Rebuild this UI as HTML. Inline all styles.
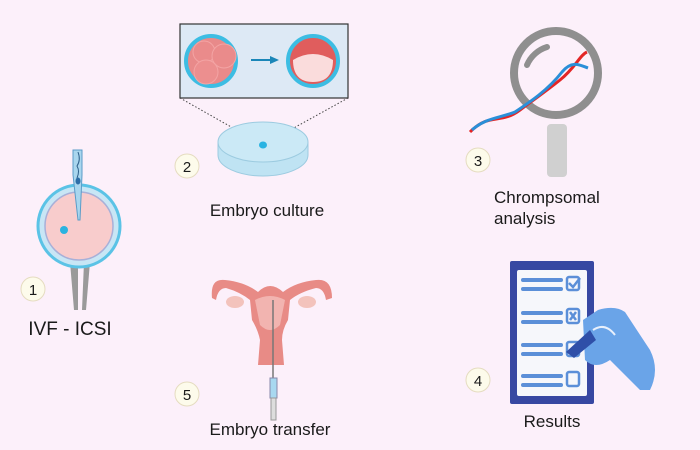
<!DOCTYPE html>
<html><head><style>
html,body{margin:0;padding:0;background:#fcf0fa;}
svg{display:block}
text{font-family:"Liberation Sans","DejaVu Sans",sans-serif;fill:#1a1a1a}
</style></head><body>
<svg width="700" height="450" viewBox="0 0 700 450" xmlns="http://www.w3.org/2000/svg">
<rect width="700" height="450" fill="#fcf0fa"/>
<!-- ICSI -->
<path d="M70 262 L74 310 L78 310 L78 262 Z M84 262 L82 310 L86 310 L90 262 Z" fill="#9a9a9a"/>
<circle cx="79" cy="226" r="41" fill="#c8e6f5" stroke="#5bc3e6" stroke-width="3"/>
<circle cx="79" cy="226" r="34" fill="#f8cccc" stroke="#a8b0d8" stroke-width="1.5"/>
<circle cx="64" cy="230" r="4" fill="#2bb3e0"/>
<path d="M73 150 L82 150 L82 175 L80 220 L78 220 L73 175 Z" fill="#a9d6ee" stroke="#5a9cc8" stroke-width="1"/>
<path d="M78 152 q3 8 -1 14 q3 5 0 12" stroke="#2d5f8a" fill="none" stroke-width="1"/>
<ellipse cx="78" cy="181" rx="2.5" ry="3.5" fill="#2d6ea8"/>
<circle cx="33" cy="289" r="12" fill="#fdfbeb" stroke="#e5dcc0"/>
<text x="33" y="295" font-size="15" text-anchor="middle">1</text>
<text x="70" y="335" font-size="19" text-anchor="middle">IVF - ICSI</text>
<!-- Embryo culture -->
<rect x="180" y="24" width="168" height="74" fill="#dde9f5" stroke="#333" stroke-width="1.2"/>
<circle cx="211" cy="61" r="25" fill="#e88a8a" stroke="#3cbde3" stroke-width="4"/>
<circle cx="204" cy="52" r="11" fill="#ea8b8b" stroke="#f3a4a4"/>
<circle cx="224" cy="56" r="12" fill="#ea8b8b" stroke="#f3a4a4"/>
<circle cx="206" cy="72" r="12" fill="#ec8f8f" stroke="#f3a4a4"/>
<line x1="251" y1="60" x2="272" y2="60" stroke="#1a86b8" stroke-width="2"/>
<path d="M270 56 L279 60 L270 64 Z" fill="#1a86b8"/>
<circle cx="313" cy="61" r="25" fill="#e05d5d" stroke="#3cbde3" stroke-width="4"/>
<path d="M293 60 Q313 48 333 60 Q333 82 313 82 Q293 82 293 60 Z" fill="#fadcdc"/>
<line x1="180" y1="98" x2="263" y2="145" stroke="#444" stroke-dasharray="1.5 2"/>
<line x1="348" y1="98" x2="263" y2="145" stroke="#444" stroke-dasharray="1.5 2"/>
<path d="M218 142 L218 155 A45 21 0 0 0 308 155 L308 142" fill="#bfe3f3" stroke="#9ccbe0"/>
<ellipse cx="263" cy="142" rx="45" ry="20" fill="#cbe9f6" stroke="#9ccbe0"/>
<ellipse cx="263" cy="145" rx="4" ry="3.5" fill="#29b3e2"/>
<circle cx="187" cy="166" r="12" fill="#fdfbeb" stroke="#e5dcc0"/>
<text x="187" y="172" font-size="15" text-anchor="middle">2</text>
<text x="267" y="216" font-size="17" text-anchor="middle">Embryo culture</text>
<!-- Chromosomal -->
<rect x="547" y="124" width="20" height="53" rx="4" fill="#d0d0d0"/>
<circle cx="556" cy="73" r="42" fill="none" stroke="#8f8f8f" stroke-width="8"/>
<path d="M527 65 A32 32 0 0 1 547 47" stroke="#8f8f8f" stroke-width="6" fill="none" stroke-linecap="round"/>
<path d="M470 132 C490 112 500 125 520 110 C540 95 545 92 560 80 C575 68 580 55 587 52" stroke="#e32626" stroke-width="3" fill="none"/>
<path d="M472 130 C485 118 500 118 515 112 C530 102 548 90 562 72 C572 60 580 65 588 68" stroke="#2a8fd8" stroke-width="3" fill="none"/>
<circle cx="478" cy="160" r="12" fill="#fdfbeb" stroke="#e5dcc0"/>
<text x="478" y="166" font-size="15" text-anchor="middle">3</text>
<text x="494" y="203" font-size="17">Chrompsomal</text>
<text x="494" y="224" font-size="17">analysis</text>
<!-- Results -->
<rect x="510" y="261" width="84" height="143" rx="2" fill="#3748a2"/>
<rect x="517" y="270" width="70" height="126" rx="2" fill="#f6f7fb"/>
<g stroke="#5b8fd8" stroke-width="4" stroke-linecap="round">
<line x1="523" y1="280" x2="561" y2="280"/><line x1="523" y1="289" x2="561" y2="289"/>
<line x1="523" y1="313" x2="561" y2="313"/><line x1="523" y1="322" x2="561" y2="322"/>
<line x1="523" y1="345" x2="561" y2="345"/><line x1="523" y1="354" x2="561" y2="354"/>
<line x1="523" y1="376" x2="561" y2="376"/><line x1="523" y1="385" x2="561" y2="385"/>
</g>
<g fill="none" stroke="#5b8fd8" stroke-width="2.5">
<rect x="567" y="277" width="12" height="13" rx="2"/><rect x="567" y="309" width="12" height="14" rx="2"/>
<rect x="567" y="342" width="12" height="14" rx="2"/><rect x="567" y="372" width="12" height="14" rx="2"/>
<path d="M569 283 l4 4 l7 -9"/><path d="M570 312 l6 8 M576 312 l-6 8"/>
</g>
<path d="M583 320 L598 310 Q615 305 625 312 L650 350 Q660 370 650 390 L640 390 Q620 370 610 360 Q595 370 585 360 Z" fill="#6aa4e8"/>
<path d="M566 352 L590 330 L596 340 L574 358 Z" fill="#2f4fa8"/>
<path d="M593 330 Q605 322 615 335" stroke="#e8f0fc" stroke-width="2" fill="none"/>
<circle cx="478" cy="380" r="12" fill="#fdfbeb" stroke="#e5dcc0"/>
<text x="478" y="386" font-size="15" text-anchor="middle">4</text>
<text x="552" y="427" font-size="17" text-anchor="middle">Results</text>
<!-- Uterus -->
<path d="M212 298 Q210 278 225 280 Q245 282 258 292 Q270 280 283 292 Q296 282 316 280 Q332 278 332 298 L326 300 Q324 288 316 288 Q300 292 290 300 L288 320 Q282 330 282 340 L284 365 L258 365 L260 340 Q258 330 252 320 L250 300 Q240 292 226 288 Q218 288 216 300 Z" fill="#e88b86"/>
<path d="M255 300 Q270 292 285 300 L280 325 Q270 335 260 325 Z" fill="#f2b4b0"/>
<ellipse cx="235" cy="302" rx="9" ry="6" fill="#f3c3bc"/>
<ellipse cx="307" cy="302" rx="9" ry="6" fill="#f3c3bc"/>
<line x1="273" y1="300" x2="273" y2="378" stroke="#777" stroke-width="1.5"/>
<rect x="270" y="378" width="7" height="20" fill="#a8d8f0" stroke="#88a"/>
<rect x="271" y="398" width="5" height="22" fill="#ddd" stroke="#999"/>
<circle cx="187" cy="394" r="12" fill="#fdfbeb" stroke="#e5dcc0"/>
<text x="187" y="400" font-size="15" text-anchor="middle">5</text>
<text x="270" y="435" font-size="17" text-anchor="middle">Embryo transfer</text>
</svg>
</body></html>
